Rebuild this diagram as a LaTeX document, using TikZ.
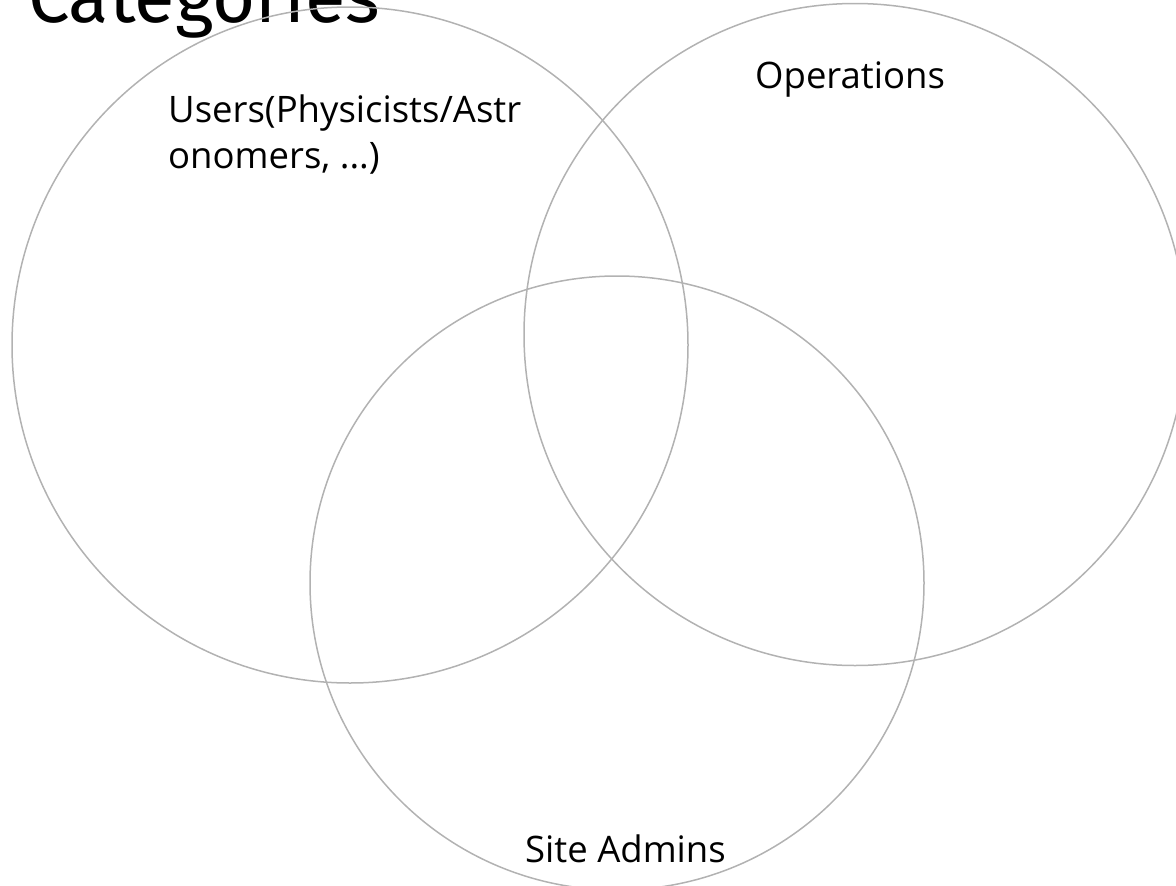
\documentclass[tikz,border=0pt]{standalone}
\usepackage{fontspec}
\setmainfont{Open Sans}
\newfontfamily\titlefont{Fira Sans}
\begin{document}
\begin{tikzpicture}[x=1pt,y=-1pt,
  venn/.style={draw=black!30,line width=1.5pt},
  lbl/.style={inner sep=0pt,anchor=base west,font=\fontsize{36.5}{46}\selectfont,align=left}]
\useasboundingbox (0,0) rectangle (1176,886);
\begin{scope}
\clip (0,0) rectangle (1176,886);
\node[inner sep=0pt,anchor=base west,font=\titlefont\fontsize{74}{74}\selectfont] (title) at (28,23) {Categories};
\draw[venn] (350,345) circle (338) coordinate (cu);
\draw[venn] (855,334.5) circle (331) coordinate (co);
\draw[venn] (617,583) circle (307) coordinate (cs);
\end{scope}
\node[lbl] (users) at (168,168) {Users(Physicists/Astr\\onomers, ...)};
\node[lbl] (ops) at (755,88) {Operations};
\node[lbl] (site) at (525,862) {Site Admins};
\end{tikzpicture}
\end{document}
